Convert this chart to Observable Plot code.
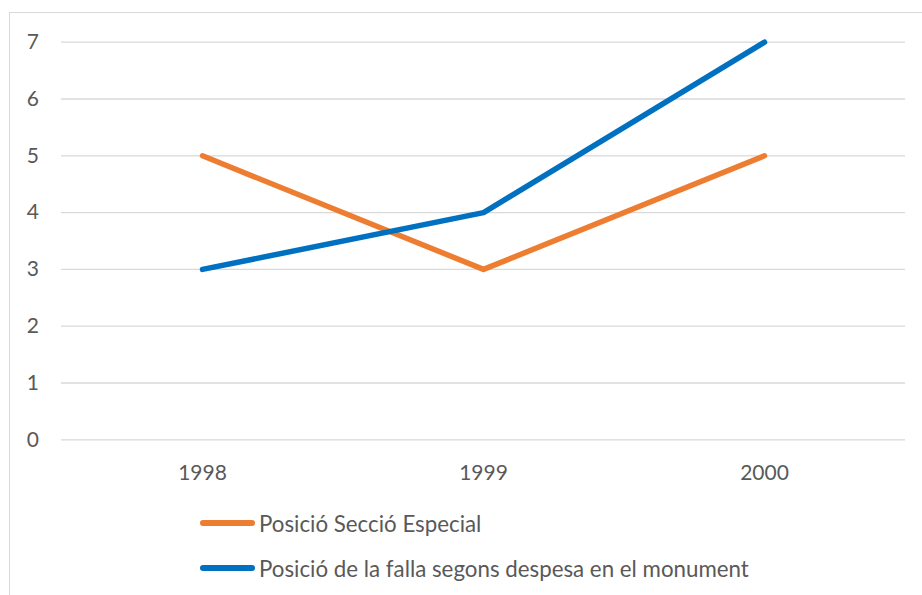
<!DOCTYPE html>
<html>
<head>
<meta charset="utf-8">
<script src="https://cdn.jsdelivr.net/npm/d3@7"></script>
<script src="https://cdn.jsdelivr.net/npm/@observablehq/plot@0.6"></script>
<style>
  html, body { margin: 0; padding: 0; background: #fff; width: 922px; height: 595px; overflow: hidden; }
  #frame { position: absolute; left: 9px; top: 12px; width: 1000px; height: 700px;
           border-left: 1px solid #d9d9d9; border-top: 1px solid #d9d9d9; pointer-events: none; }
  #chart { position: absolute; left: 0; top: 0; }
  #legend { position: absolute; left: 0; top: 490px; width: 922px; height: 105px;
            font-family: Lato, "Open Sans", sans-serif; color: #595959; font-size: 22.3px; }
  .item { position: absolute; left: 200px; display: flex; align-items: center; white-space: nowrap; }
  .swatch { width: 55px; height: 6px; border-radius: 3px; margin-right: 4px; }
</style>
</head>
<body>
<div id="chart"></div>
<div id="legend"></div>
<div id="frame"></div>
<script>
const years = ["1998", "1999", "2000"];
const seriesNames = ["Posició Secció Especial", "Posició de la falla segons despesa en el monument"];
const seccioEspecial = [5, 3, 5];
const despesaMonument = [3, 4, 7];
const yTicks = [0, 1, 2, 3, 4, 5, 6, 7];
const colors = ["#ED7D31", "#0070C0"];

const data = [];
years.forEach((y, i) => data.push({year: y, value: seccioEspecial[i], series: seriesNames[0]}));
years.forEach((y, i) => data.push({year: y, value: despesaMonument[i], series: seriesNames[1]}));

const chart = Plot.plot({
  width: 922,
  height: 490,
  marginLeft: 61,
  marginRight: 17,
  marginTop: 41.7,
  marginBottom: 50.7,
  style: {background: "transparent", fontFamily: "Lato, 'Open Sans', sans-serif", fontSize: "21px", color: "#595959"},
  x: {type: "point", domain: years, padding: 0.5, label: null},
  y: {domain: [0, 7], label: null},
  color: {domain: seriesNames, range: colors},
  marks: [
    Plot.ruleY(yTicks, {stroke: "#d9d9d9", strokeWidth: 1.3, strokeOpacity: 1}),
    Plot.axisX({tickSize: 0, tickPadding: 25, fill: "#595959", fontSize: 21, label: null}),
    Plot.axisY({ticks: yTicks, tickFormat: d3.format("d"), tickSize: 0, tickPadding: 22.5, fill: "#595959", fontSize: 21, label: null}),
    Plot.line(data, {x: "year", y: "value", z: "series", stroke: "series", strokeWidth: 5.5,
                     strokeLinecap: "round", strokeLinejoin: "round"})
  ]
});
document.getElementById("chart").appendChild(chart);

const legend = document.getElementById("legend");
const ys = [33.3, 78.3];
seriesNames.forEach((name, i) => {
  const it = document.createElement("div");
  it.className = "item";
  it.style.top = (ys[i] - 14) + "px";
  it.style.height = "28px";
  const sw = document.createElement("div");
  sw.className = "swatch";
  sw.style.background = colors[i];
  const tx = document.createElement("span");
  tx.textContent = name;
  it.appendChild(sw);
  it.appendChild(tx);
  legend.appendChild(it);
});
</script>
</body>
</html>
